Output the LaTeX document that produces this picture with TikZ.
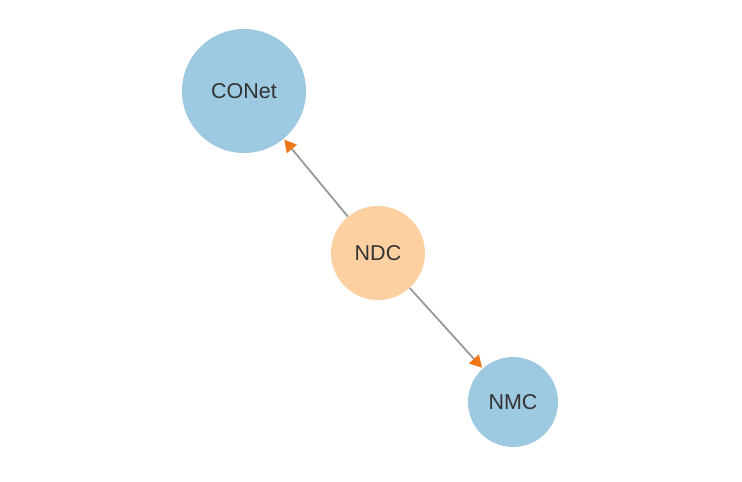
\documentclass[tikz,border=0pt]{standalone}
\usepackage{fontspec}
\setmainfont{Liberation Sans}
\usetikzlibrary{arrows.meta}
\definecolor{nodeblue}{HTML}{9ECAE1}
\definecolor{nodeorange}{HTML}{FDD0A2}
\definecolor{tiporange}{HTML}{F07818}
\definecolor{edgegray}{HTML}{999999}
\definecolor{labelgray}{HTML}{333333}
\begin{document}
\begin{tikzpicture}[x=1pt,y=-1pt,
          every node/.style={font=\fontsize{21.5}{24}\selectfont,text=labelgray},
          circnode/.style={circle,inner sep=0pt},
          edge/.style={edgegray,line width=1.8pt,shorten >=1pt,
              -{Triangle[length=12pt,width=13pt,color=tiporange]}}]
        \useasboundingbox (0,0) rectangle (742,482);
        \node[circnode,fill=nodeblue,minimum size=124pt] (conet) at (244,91) {CONet};
        \node[circnode,fill=nodeorange,minimum size=94pt] (ndc) at (378,253) {NDC};
        \node[circnode,fill=nodeblue,minimum size=90pt] (nmc) at (513,402) {NMC};
        \foreach \x/\y in {ndc/conet,ndc/nmc}
        \draw[edge] (\x)--(\y);
      \end{tikzpicture}
\end{document}
